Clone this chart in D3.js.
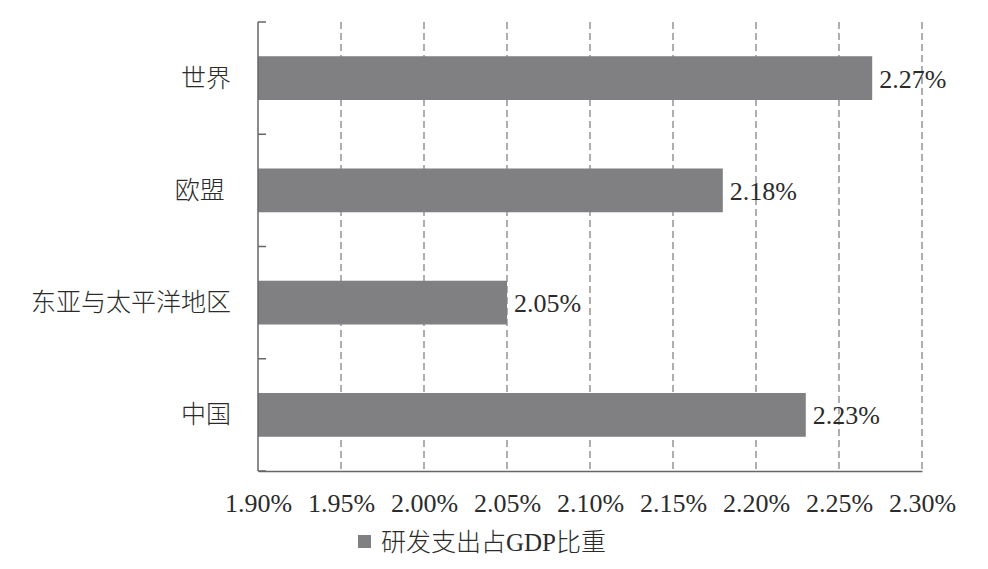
<!DOCTYPE html>
<html>
<head>
<meta charset="utf-8">
<script src="https://cdn.jsdelivr.net/npm/d3@7"></script>
<style>
  html, body { margin: 0; padding: 0; background: #fff; }
  svg { display: block; }
  text { font-family: "Liberation Serif", "Noto Sans CJK SC", serif; fill: #2b2b2b; }
  .cjk { font-weight: 300; }
</style>
</head>
<body>
<svg id="chart" width="988" height="569"></svg>
<script>
const categories = ["世界", "欧盟 ", "东亚与太平洋地区", "中国"];
const values = [2.27, 2.18, 2.05, 2.23];
const tickValues = [1.90, 1.95, 2.00, 2.05, 2.10, 2.15, 2.20, 2.25, 2.30];
const seriesName = "研发支出占GDP比重";

(function () {
const svg = d3.select("#chart");
const mLeft = 258, mRight = 922, mTop = 22, mBottom = 471;
const barColor = "#808083";
const axisColor = "#666";

const x = d3.scaleLinear().domain([1.90, 2.30]).range([mLeft, mRight]);
const y = d3.scaleBand().domain(categories).range([mTop, mBottom])
  .paddingInner(0.61).paddingOuter(0.305);

// gridlines
svg.append("g").selectAll("line").data(tickValues.slice(1)).join("line")
  .attr("x1", d => x(d)).attr("x2", d => x(d))
  .attr("y1", mTop).attr("y2", mBottom)
  .attr("stroke", "#7a7a7a").attr("stroke-width", 1.2)
  .attr("stroke-dasharray", "7,4");

// bars
svg.append("g").selectAll("rect").data(values).join("rect")
  .attr("x", x(1.90))
  .attr("y", (d, i) => y(categories[i]))
  .attr("width", d => x(d) - x(1.90))
  .attr("height", y.bandwidth())
  .attr("fill", barColor);

// x axis
const xAxis = d3.axisBottom(x).tickValues(tickValues).tickSize(0)
  .tickFormat(d => d3.format(".2f")(d) + "%");
const gx = svg.append("g").attr("transform", `translate(0,${mBottom})`).call(xAxis);
gx.select(".domain").attr("stroke", axisColor).attr("stroke-width", 1.5);
gx.selectAll("text").attr("dy", null).attr("y", 41)
  .style("font-size", "26px").attr("fill", "#2b2b2b");

// y axis line and ticks at band boundaries
const gy = svg.append("g");
gy.append("line").attr("x1", mLeft).attr("x2", mLeft).attr("y1", mTop).attr("y2", mBottom)
  .attr("stroke", axisColor).attr("stroke-width", 1.5);
const step = y.step();
const boundaries = d3.range(categories.length + 1).map(i => y(categories[0]) - step * y.paddingOuter() + i * step);
gy.selectAll("line.tk").data(boundaries).join("line").attr("class", "tk")
  .attr("x1", mLeft).attr("x2", mLeft + 8)
  .attr("y1", d => d).attr("y2", d => d)
  .attr("stroke", axisColor).attr("stroke-width", 1.5);

// category labels
svg.append("g").selectAll("text").data(categories).join("text")
  .attr("class", "cjk")
  .attr("x", 231).attr("y", d => y(d) + y.bandwidth() / 2)
  .attr("text-anchor", "end").attr("dominant-baseline", "central")
  .style("font-size", "25px").style("white-space", "pre")
  .text(d => d);

// value labels
svg.append("g").selectAll("text").data(values).join("text")
  .attr("x", d => x(d) + 7)
  .attr("y", (d, i) => y(categories[i]) + y.bandwidth() / 2 + 1)
  .attr("dominant-baseline", "central")
  .style("font-size", "26px")
  .text(d => d3.format(".2f")(d) + "%");

// legend
svg.append("rect").attr("x", 358).attr("y", 535).attr("width", 13).attr("height", 13).attr("fill", barColor);
svg.append("text").attr("class", "cjk").attr("x", 381).attr("y", 542).attr("dominant-baseline", "central")
  .style("font-size", "25px").text(seriesName);
})();
</script>
</body>
</html>
